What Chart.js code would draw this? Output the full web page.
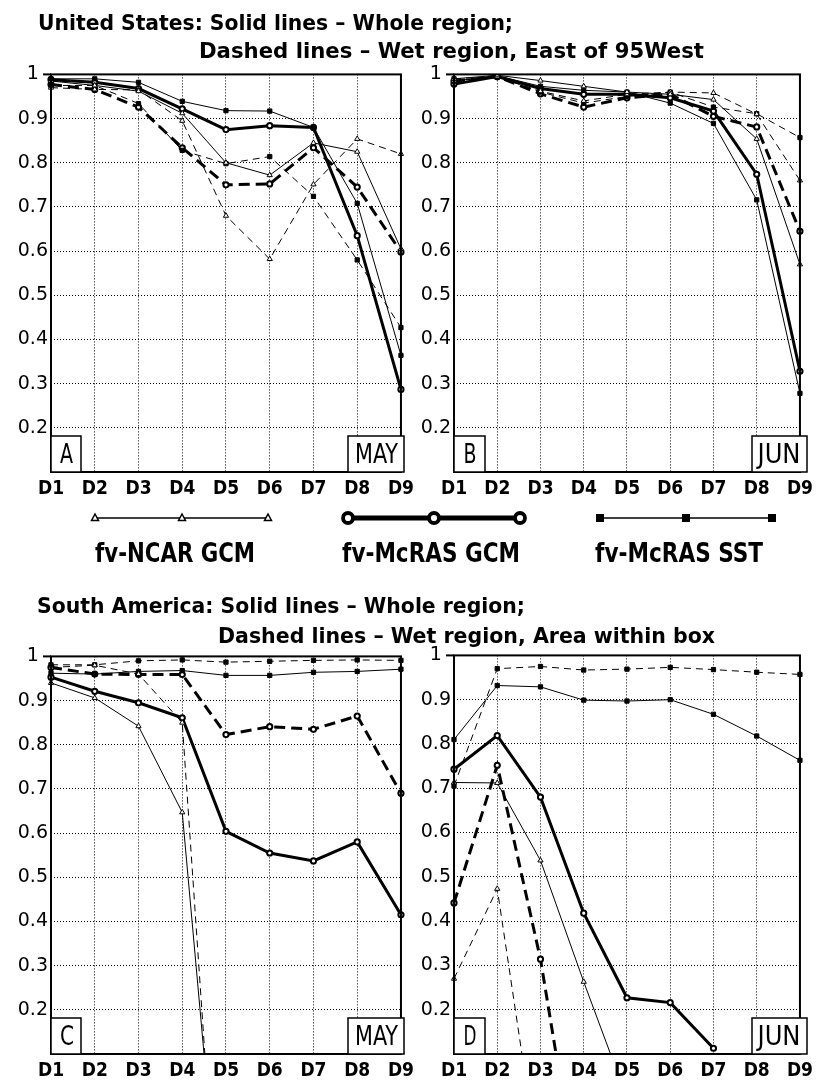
<!DOCTYPE html>
<html><head><meta charset="utf-8">
<script src="https://cdn.jsdelivr.net/npm/chart.js@4.4.1/dist/chart.umd.min.js"></script>
<style>
html,body{margin:0;padding:0;background:#fff;}
#wrap{position:relative;width:819px;height:1082px;overflow:hidden;background:#fff;}
canvas.pc{position:absolute;}
#ov{position:absolute;left:0;top:0;z-index:5;pointer-events:none;}
.tt{font-family:'Liberation Sans Narrow','DejaVu Sans Condensed','DejaVu Sans',sans-serif;font-weight:bold;font-size:21px;fill:#000;}
.lg{font-family:'Liberation Sans Narrow','DejaVu Sans Condensed','DejaVu Sans',sans-serif;font-weight:bold;font-size:27px;fill:#000;}
.bx{font-family:'Liberation Sans Narrow','DejaVu Sans Condensed','DejaVu Sans',sans-serif;font-weight:normal;font-size:27px;fill:#000;}
</style></head>
<body><div id="wrap">
<canvas id="cA" class="pc" width="420" height="440" style="left:0;top:60px;width:420px;height:440px"></canvas>
<canvas id="cB" class="pc" width="414" height="440" style="left:405px;top:60px;width:414px;height:440px"></canvas>
<canvas id="cC" class="pc" width="420" height="440" style="left:0;top:642px;width:420px;height:440px"></canvas>
<canvas id="cD" class="pc" width="414" height="441" style="left:405px;top:641px;width:414px;height:441px"></canvas>
<svg id="ov" width="819" height="1082" xmlns="http://www.w3.org/2000/svg">
  <text class="tt" x="38" y="30" textLength="475" lengthAdjust="spacingAndGlyphs">United States: Solid lines – Whole region;</text>
  <text class="tt" x="199" y="58" textLength="505" lengthAdjust="spacingAndGlyphs">Dashed lines – Wet region, East of 95West</text>
  <text class="tt" x="37" y="613" textLength="488" lengthAdjust="spacingAndGlyphs">South America: Solid lines – Whole region;</text>
  <text class="tt" x="218" y="643" textLength="497" lengthAdjust="spacingAndGlyphs">Dashed lines – Wet region, Area within box</text>

  <line x1="95" y1="518" x2="268" y2="518" stroke="#000" stroke-width="1.6"/>
  <polygon points="95,514 91.5,520.5 98.5,520.5" fill="#fff" stroke="#000" stroke-width="1.5"/>
  <polygon points="182,514 178.5,520.5 185.5,520.5" fill="#fff" stroke="#000" stroke-width="1.5"/>
  <polygon points="268,514 264.5,520.5 271.5,520.5" fill="#fff" stroke="#000" stroke-width="1.5"/>
  <line x1="348" y1="518" x2="520" y2="518" stroke="#000" stroke-width="5"/>
  <circle cx="348" cy="518" r="5" fill="#fff" stroke="#000" stroke-width="3.8"/>
  <circle cx="434" cy="518" r="5" fill="#fff" stroke="#000" stroke-width="3.8"/>
  <circle cx="520" cy="518" r="5" fill="#fff" stroke="#000" stroke-width="3.8"/>
  <line x1="600" y1="518" x2="772" y2="518" stroke="#000" stroke-width="1.6"/>
  <rect x="596" y="514" width="8" height="8" fill="#000"/>
  <rect x="682" y="514" width="8" height="8" fill="#000"/>
  <rect x="768" y="514" width="8" height="8" fill="#000"/>
  <text class="lg" x="95" y="562" textLength="160" lengthAdjust="spacingAndGlyphs">fv-NCAR GCM</text>
  <text class="lg" x="342" y="562" textLength="178" lengthAdjust="spacingAndGlyphs">fv-McRAS GCM</text>
  <text class="lg" x="595" y="562" textLength="168" lengthAdjust="spacingAndGlyphs">fv-McRAS SST</text>

  <rect x="51" y="436" width="30" height="36" fill="#fff" stroke="#000" stroke-width="1.5"/>
  <text class="bx" x="66.5" y="463" text-anchor="middle" textLength="13" lengthAdjust="spacingAndGlyphs">A</text>
  <rect x="348" y="436" width="56" height="36" fill="#fff" stroke="#000" stroke-width="1.5"/>
  <text class="bx" x="376.5" y="463" text-anchor="middle" textLength="43" lengthAdjust="spacingAndGlyphs">MAY</text>
  <rect x="454" y="436" width="31" height="36" fill="#fff" stroke="#000" stroke-width="1.5"/>
  <text class="bx" x="470" y="463" text-anchor="middle" textLength="13" lengthAdjust="spacingAndGlyphs">B</text>
  <rect x="752" y="436" width="55" height="36" fill="#fff" stroke="#000" stroke-width="1.5"/>
  <text class="bx" x="779" y="463" text-anchor="middle" textLength="43" lengthAdjust="spacingAndGlyphs">JUN</text>

  <rect x="51" y="1018" width="30" height="36" fill="#fff" stroke="#000" stroke-width="1.5"/>
  <text class="bx" x="67" y="1045" text-anchor="middle" textLength="14" lengthAdjust="spacingAndGlyphs">C</text>
  <rect x="348" y="1018" width="56" height="36" fill="#fff" stroke="#000" stroke-width="1.5"/>
  <text class="bx" x="376.5" y="1045" text-anchor="middle" textLength="43" lengthAdjust="spacingAndGlyphs">MAY</text>
  <rect x="454" y="1018" width="31" height="36" fill="#fff" stroke="#000" stroke-width="1.5"/>
  <text class="bx" x="470" y="1045" text-anchor="middle" textLength="13" lengthAdjust="spacingAndGlyphs">D</text>
  <rect x="752" y="1018" width="55" height="36" fill="#fff" stroke="#000" stroke-width="1.5"/>
  <text class="bx" x="779" y="1045" text-anchor="middle" textLength="43" lengthAdjust="spacingAndGlyphs">JUN</text>
</svg>
</div>
<script>
// ---- categories and tick labels ----
const days = ['D1','D2','D3','D4','D5','D6','D7','D8','D9'];
const yTickValues = [0.2,0.3,0.4,0.5,0.6,0.7,0.8,0.9,1.0];
const yTickLabels = ['0.2','0.3','0.4','0.5','0.6','0.7','0.8','0.9','1'];

// ---- A: United States, MAY ----
const usMayNcarWhole  = [0.985,0.975,0.962,0.912,0.800,0.772,0.845,0.825,0.605];
const usMayNcarWet    = [0.970,0.966,0.965,0.895,0.680,0.582,0.751,0.854,0.820];
const usMayMcrasWhole = [0.988,0.982,0.968,0.922,0.875,0.884,0.880,0.635,0.287];
const usMayMcrasWet   = [0.977,0.966,0.926,0.834,0.750,0.752,0.834,0.745,0.598];
const usMaySstWhole   = [0.990,0.990,0.982,0.939,0.918,0.917,0.880,0.708,0.364];
const usMaySstWet     = [0.975,0.975,0.934,0.828,0.798,0.814,0.724,0.580,0.427];

// ---- B: United States, JUN ----
const usJunNcarWhole  = [0.990,0.998,0.986,0.973,0.960,0.955,0.943,0.854,0.570];
const usJunNcarWet    = [0.985,0.995,0.962,0.940,0.955,0.960,0.958,0.910,0.760];
const usJunMcrasWhole = [0.978,0.995,0.968,0.955,0.955,0.947,0.917,0.774,0.328];
const usJunMcrasWet   = [0.985,0.995,0.956,0.926,0.947,0.955,0.905,0.881,0.645];
const usJunSstWhole   = [0.985,0.997,0.973,0.964,0.960,0.935,0.889,0.716,0.278];
const usJunSstWet     = [0.990,0.995,0.960,0.935,0.950,0.960,0.926,0.911,0.857];

// ---- C: South America, MAY ----
const saMayNcarWhole  = [0.940,0.906,0.842,0.647,-0.45,null,null,null,null];
const saMayNcarWet    = [0.975,0.980,0.960,0.850,-0.60,null,null,null,null];
const saMayMcrasWhole = [0.953,0.921,0.895,0.861,0.604,0.555,0.537,0.580,0.415];
const saMayMcrasWet   = [0.975,0.960,0.959,0.959,0.823,0.841,0.835,0.865,0.690];
const saMaySstWhole   = [0.962,0.960,0.966,0.968,0.957,0.957,0.964,0.966,0.971];
const saMaySstWet     = [0.981,0.981,0.990,0.992,0.987,0.989,0.991,0.992,0.991];

// ---- D: South America, JUN ----
const saJunNcarWhole  = [0.713,0.712,0.537,0.263,0.000,null,null,null,null];
const saJunNcarWet    = [0.270,0.473,-0.18,null,null,null,null,null,null];
const saJunMcrasWhole = [0.743,0.819,0.680,0.418,0.227,0.216,0.113,null,null];
const saJunMcrasWet   = [0.441,0.752,0.314,-0.28,null,null,null,null,null];
const saJunSstWhole   = [0.810,0.932,0.929,0.899,0.897,0.900,0.867,0.818,0.763];
const saJunSstWet     = [0.705,0.970,0.975,0.967,0.969,0.973,0.968,0.962,0.957];

const tickFontX = {family:"'Liberation Sans Narrow','DejaVu Sans Condensed','DejaVu Sans',sans-serif", weight:'bold', size:19};
const tickFontY = {family:"'DejaVu Sans',sans-serif", weight:'normal', size:19};

const framePlugin = {
  id:'frame',
  afterDatasetsDraw(chart){
    const ctx = chart.ctx, a = chart.chartArea;
    ctx.save();
    ctx.setLineDash([]);
    ctx.strokeStyle = '#000';
    ctx.lineWidth = 2;
    ctx.strokeRect(a.left, a.top, a.right - a.left, a.bottom - a.top);
    ctx.beginPath();
    ctx.moveTo(a.left - 8, a.top); ctx.lineTo(a.left, a.top);
    ctx.stroke();
    ctx.restore();
  }
};

function ds(label, data, kind, dashed){
  const base = {label, data, borderColor:'#000', fill:false, tension:0, spanGaps:false,
                pointBorderColor:'#000'};
  if (kind === 'ncar') Object.assign(base, {borderWidth:1, pointStyle:'triangle', pointRadius:3, pointBorderWidth:1, pointBackgroundColor:'#fff'});
  if (kind === 'mcras') Object.assign(base, {borderWidth:3, pointStyle:'circle', pointRadius:2.6, pointBorderWidth:2, pointBackgroundColor:'#fff'});
  if (kind === 'sst') Object.assign(base, {borderWidth:1, pointStyle:'rect', pointRadius:3, pointBorderWidth:1, pointBackgroundColor:'#000'});
  if (dashed) base.borderDash = (kind === 'mcras') ? [11,6] : [7,5];
  return base;
}

function makeChart(id, s, yW, padR){
  new Chart(document.getElementById(id), {
    type:'line',
    data:{
      labels: days,
      datasets:[
        ds('fv-NCAR GCM, whole region', s[0], 'ncar', false),
        ds('fv-NCAR GCM, wet region', s[1], 'ncar', true),
        ds('fv-McRAS SST, whole region', s[4], 'sst', false),
        ds('fv-McRAS SST, wet region', s[5], 'sst', true),
        ds('fv-McRAS GCM, whole region', s[2], 'mcras', false),
        ds('fv-McRAS GCM, wet region', s[3], 'mcras', true)
      ]
    },
    options:{
      responsive:false, animation:false, devicePixelRatio:1,
      layout:{padding:{top:13, right:padR, left:0, bottom:0}},
      plugins:{legend:{display:false}, tooltip:{enabled:false}, title:{display:false}},
      scales:{
        x:{type:'category', offset:false,
           grid:{color:'#000', lineWidth:1, drawTicks:false},
           border:{display:false, dash:[1,2]},
           ticks:{color:'#000', font:tickFontX, padding:6, autoSkip:false, maxRotation:0, minRotation:0},
           afterFit(sc){ sc.height = 28; }},
        y:{type:'linear', min:0.1, max:1.0,
           grid:{color:'#000', lineWidth:1, drawTicks:false},
           border:{display:false, dash:[1,2]},
           ticks:{color:'#000', font:tickFontY, padding:3, crossAlign:'center',
                  callback:(v,i)=>yTickLabels[i]},
           afterBuildTicks(sc){ sc.ticks = yTickValues.map(v=>({value:v})); },
           afterFit(sc){ sc.width = yW; }}
      }
    },
    plugins:[framePlugin]
  });
}

makeChart('cA', [usMayNcarWhole, usMayNcarWet, usMayMcrasWhole, usMayMcrasWet, usMaySstWhole, usMaySstWet], 51, 16);
makeChart('cB', [usJunNcarWhole, usJunNcarWet, usJunMcrasWhole, usJunMcrasWet, usJunSstWhole, usJunSstWet], 49, 12);
makeChart('cC', [saMayNcarWhole, saMayNcarWet, saMayMcrasWhole, saMayMcrasWet, saMaySstWhole, saMaySstWet], 51, 16);
makeChart('cD', [saJunNcarWhole, saJunNcarWet, saJunMcrasWhole, saJunMcrasWet, saJunSstWhole, saJunSstWet], 49, 12);
</script>
</body></html>
